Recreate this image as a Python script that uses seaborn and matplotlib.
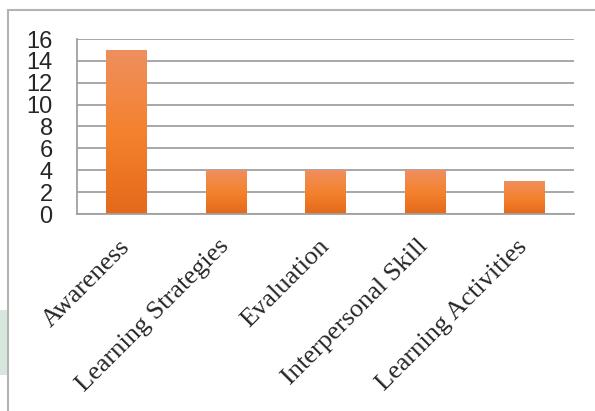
import numpy as np
import pandas as pd
import matplotlib
matplotlib.use("Agg")
import matplotlib.pyplot as plt
import seaborn as sns
from matplotlib.colors import LinearSegmentedColormap
from matplotlib.lines import Line2D
from matplotlib.patches import Rectangle

categories = ["Awareness", "Learning Strategies", "Evaluation", "Interpersonal Skill", "Learning Activities"]
values = [15, 4, 4, 4, 3]
yticks = [0, 2, 4, 6, 8, 10, 12, 14, 16]

sns.set_style("white")
W, H = 595, 411
fig = plt.figure(figsize=(W / 100, H / 100), dpi=100)
ax = fig.add_axes([77 / W, (H - 214) / H, (574 - 77) / W, (214 - 39) / H])

df = pd.DataFrame({"cat": categories, "val": values})
sns.barplot(data=df, x="cat", y="val", ax=ax, color="#F07F2C", width=0.41,
            saturation=1, zorder=3)

# gradient fill
cmap = LinearSegmentedColormap.from_list("g", ["#E4691A", "#F4822E", "#EF8F5E"])
grad = np.linspace(0, 1, 256).reshape(-1, 1)
for p in ax.patches:
    x, w, h = p.get_x(), p.get_width(), p.get_height()
    im = ax.imshow(grad, cmap=cmap, origin="lower", aspect="auto",
                   extent=[x, x + w, 0, h], zorder=4)
    im.set_clip_path(p)
    p.set_edgecolor("none")

ax.set_xlim(-0.5, len(categories) - 0.5)
ax.set_ylim(0, 16)
ax.set_yticks(yticks)
ax.set_yticklabels([str(v) for v in yticks], fontfamily="Liberation Sans", fontsize=17)
ax.yaxis.grid(True, color="#a0a0a0", linewidth=1.3, zorder=0)
ax.set_axisbelow(True)

ax.set_xticks(range(len(categories)))
ax.set_xticklabels(categories, rotation=45, ha="right", va="center",
                   rotation_mode="anchor", fontfamily="Liberation Serif", fontsize=19)
ax.set_xticks(np.arange(-0.5, len(categories)), minor=True)
ax.tick_params(axis="x", which="major", length=0, pad=21)
ax.tick_params(axis="x", which="minor", length=6, color="#a0a0a0", width=1.3, direction="out")
ax.tick_params(axis="y", length=6.5, color="#a0a0a0", width=1.3, direction="out", pad=11)
ax.set_xlabel("")
ax.set_ylabel("")

for s in ["top", "right"]:
    ax.spines[s].set_visible(False)
for s in ["left", "bottom"]:
    ax.spines[s].set_color("#a0a0a0")
    ax.spines[s].set_linewidth(1.3)
ax.spines["bottom"].set_zorder(6)

# outer frame
fig.add_artist(Line2D([8 / W, 8 / W], [0, (H - 10) / H], color="#b4b4b4", lw=1.5))
fig.add_artist(Line2D([8 / W, 1], [(H - 10) / H, (H - 10) / H], color="#b4b4b4", lw=1.5))
fig.add_artist(Rectangle((0, (H - 375) / H), 7 / W, 65 / H, transform=fig.transFigure,
                         color="#d8e7de", lw=0))

fig.savefig("out.png", dpi=100)
